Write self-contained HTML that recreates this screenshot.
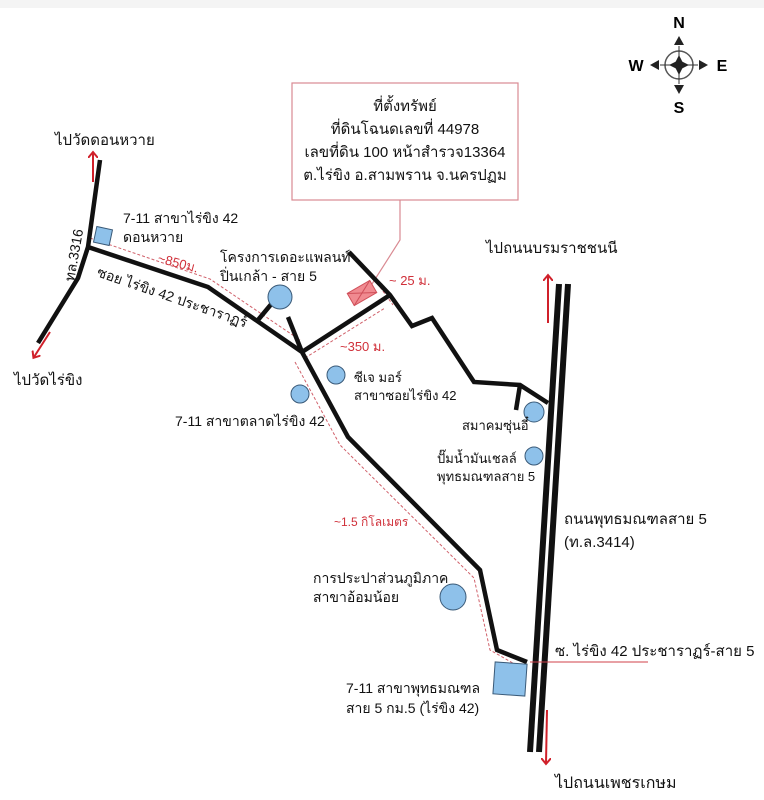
<!DOCTYPE html>
<html><head><meta charset="utf-8"><style>
body{margin:0;background:#fff;}
svg{display:block;font-family:"Liberation Sans","Noto Sans CJK SC","WenQuanYi Zen Hei",sans-serif;}
</style></head><body>
<svg width="764" height="800" viewBox="0 0 764 800">
<defs>
<marker id="ar" markerWidth="10" markerHeight="10" refX="5" refY="5" orient="auto" markerUnits="userSpaceOnUse"><path d="M0,0 L6,5 L0,10" fill="none" stroke="#d0202a" stroke-width="2"/></marker>
</defs>
<rect x="0" y="0" width="764" height="8" fill="#f4f4f4"/>
<g>
<circle cx="679" cy="65" r="14" fill="none" stroke="#555" stroke-width="1.5"/>
<line x1="660" y1="65" x2="698" y2="65" stroke="#333"/><line x1="679" y1="46" x2="679" y2="84" stroke="#333"/>
<polygon points="679,55 684,65 679,75 674,65" fill="#222"/><polygon points="669,65 679,60 689,65 679,70" fill="#222"/>
<polygon points="679,36 674,45 684,45" fill="#222"/><polygon points="679,94 674,85 684,85" fill="#222"/>
<polygon points="650,65 659,60 659,70" fill="#222"/><polygon points="708,65 699,60 699,70" fill="#222"/>
<text x="679" y="28" font-size="16" font-weight="bold" text-anchor="middle">N</text>
<text x="679" y="113" font-size="16" font-weight="bold" text-anchor="middle">S</text>
<text x="636" y="71" font-size="16" font-weight="bold" text-anchor="middle">W</text>
<text x="722" y="71" font-size="16" font-weight="bold" text-anchor="middle">E</text>
</g>
<rect x="292" y="83" width="226" height="117" fill="#fff" stroke="#d98a92" stroke-width="1.2"/>
<polyline points="400,200 400,240 365,295" fill="none" stroke="#d98a92" stroke-width="1.2"/>
<g font-size="15" fill="#111" text-anchor="middle">
<text x="405" y="111">ที่ตั้งทรัพย์</text>
<text x="405" y="134">ที่ดินโฉนดเลขที่ 44978</text>
<text x="405" y="157">เลขที่ดิน 100 หน้าสำรวจ13364</text>
<text x="405" y="180">ต.ไร่ขิง อ.สามพราน จ.นครปฏม</text>
</g>
<g fill="none" stroke="#d0606a" stroke-width="1" stroke-dasharray="3,2">
<polyline points="90,238 210,279 300,340"/>
<polyline points="305,358 385,308"/>
<polyline points="295,362 340,445 474,578 490,650 518,666"/>
<line x1="380" y1="287" x2="393" y2="305"/>
</g>
<g fill="none" stroke="#111" stroke-width="4.5" stroke-linejoin="miter">
<polyline points="100,160 88,247 78,278 38,343"/>
<polyline points="88,247 208,287 302,352 348,437 480,570 497,650 527,662"/>
<polyline points="302,352 390,295"/>
<polyline points="349,252 390,295 412,326 432,318 474,382 520,385 548,403"/>
<line x1="520" y1="385" x2="516" y2="410"/>
<line x1="258" y1="320" x2="273" y2="302"/>
<line x1="288" y1="317" x2="302" y2="352"/>
<line x1="559" y1="284" x2="530" y2="752" stroke-width="6"/>
<line x1="568" y1="284" x2="539" y2="752" stroke-width="6"/>
</g>
<line x1="530" y1="662" x2="648" y2="662" stroke="#d0404a" stroke-width="1"/>
<g transform="translate(362,293) rotate(-30)">
<rect x="-13" y="-7" width="26" height="14" fill="#f08a90" stroke="#d0505a"/>
<line x1="-13" y1="-7" x2="13" y2="7" stroke="#d0505a"/><line x1="-13" y1="7" x2="13" y2="-7" stroke="#d0505a"/>
</g>
<g fill="#8ec1ea" stroke="#3a5a78" stroke-width="1">
<rect x="95" y="228" width="16" height="16" transform="rotate(12 103 236)"/>
<rect x="494" y="663" width="32" height="32" transform="rotate(4 510 679)"/>
<circle cx="280" cy="297" r="12"/>
<circle cx="336" cy="375" r="9"/>
<circle cx="300" cy="394" r="9"/>
<circle cx="534" cy="412" r="10"/>
<circle cx="534" cy="456" r="9"/>
<circle cx="453" cy="597" r="13"/>
</g>
<g stroke="#d0202a" stroke-width="2" marker-end="url(#ar)">
<line x1="93" y1="182" x2="93" y2="153"/>
<line x1="50" y1="332" x2="34" y2="357"/>
<line x1="548" y1="323" x2="548" y2="276"/>
<line x1="547" y1="710" x2="546" y2="763"/>
</g>
<g font-size="14" fill="#111">
<text x="55" y="145" font-size="15">ไปวัดดอนหวาย</text>
<text x="14" y="385" font-size="15">ไปวัดไร่ขิง</text>
<text x="486" y="253" font-size="15">ไปถนนบรมราชชนนี</text>
<text x="555" y="788" font-size="16">ไปถนนเพชรเกษม</text>
<text x="123" y="223">7-11 สาขาไร่ขิง 42</text>
<text x="123" y="242">ดอนหวาย</text>
<text x="220" y="262">โครงการเดอะแพลนท์</text>
<text x="220" y="281">ปิ่นเกล้า - สาย 5</text>
<text x="354" y="382" font-size="13">ซีเจ มอร์</text>
<text x="354" y="400" font-size="13">สาขาซอยไร่ขิง 42</text>
<text x="175" y="426">7-11 สาขาตลาดไร่ขิง 42</text>
<text x="462" y="430" font-size="13">สมาคมซุ่นอี๋</text>
<text x="437" y="463" font-size="13">ปั๊มน้ำมันเชลล์</text>
<text x="437" y="481" font-size="13">พุทธมณฑลสาย 5</text>
<text x="564" y="524" font-size="15">ถนนพุทธมณฑลสาย 5</text>
<text x="564" y="547" font-size="15">(ท.ล.3414)</text>
<text x="313" y="583">การประปาส่วนภูมิภาค</text>
<text x="313" y="602">สาขาอ้อมน้อย</text>
<text x="555" y="656" font-size="15">ซ. ไร่ขิง 42 ประชาราฏร์-สาย 5</text>
<text x="346" y="693">7-11 สาขาพุทธมณฑล</text>
<text x="346" y="713">สาย 5 กม.5 (ไร่ขิง 42)</text>
<text transform="translate(74,282) rotate(-80)" font-size="14">ทล.3316</text>
<text transform="translate(96,276) rotate(19)" font-size="14">ซอย ไร่ขิง 42 ประชาราฏร์</text>
</g>
<g font-size="13" fill="#d0303a">
<text x="157" y="262" transform="rotate(15 157 262)">~850ม.</text>
<text x="340" y="351">~350 ม.</text>
<text x="389" y="285">~ 25 ม.</text>
<text x="334" y="526" font-size="12">~1.5 กิโลเมตร</text>
</g>
</svg>
</body></html>
